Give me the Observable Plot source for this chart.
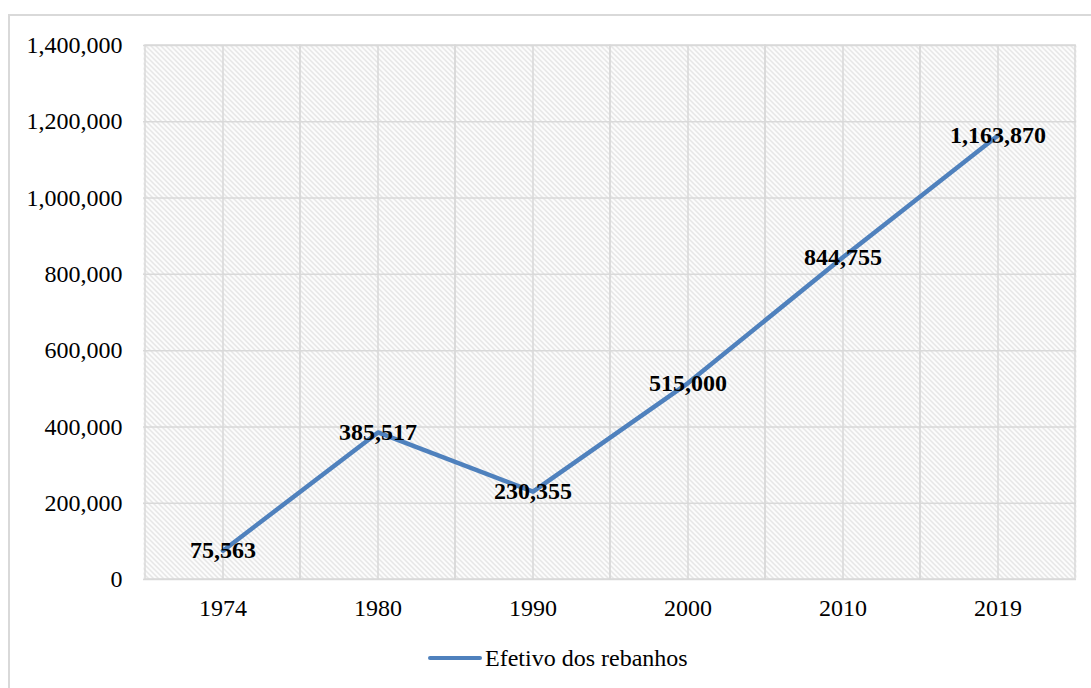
<!DOCTYPE html>
<html>
<head>
<meta charset="utf-8">
<script src="https://cdn.jsdelivr.net/npm/d3@7"></script>
<script src="https://cdn.jsdelivr.net/npm/@observablehq/plot@0.6"></script>
<style>
  html, body { margin: 0; padding: 0; background: #fff; }
  #wrap { position: relative; width: 1091px; height: 688px; overflow: hidden; font-family: "Liberation Serif", "Times New Roman", serif; }
  #border { position: absolute; left: 8px; top: 14px; width: 1110px; height: 710px; border: 2px solid #d9d9d9; box-sizing: border-box; }
  #chart { position: absolute; left: 0; top: 0; }
  #legend { position: absolute; left: 428px; top: 644px; height: 28px; display: flex; align-items: center; font-size: 24px; color: #000; }
  #legend .swatch { width: 54px; height: 4px; background: #4f81bd; border-radius: 2px; margin-right: 3px; }
</style>
</head>
<body>
<div id="wrap">
  <div id="border"></div>
  <div id="chart"></div>
  <div id="legend"><span class="swatch"></span><span>Efetivo dos rebanhos</span></div>
</div>
<script>
const years = ["1974", "1980", "1990", "2000", "2010", "2019"];
const herd = [75563, 385517, 230355, 515000, 844755, 1163870];
const yTicks = [0, 200000, 400000, 600000, 800000, 1000000, 1200000, 1400000];
const seriesName = "Efetivo dos rebanhos";

const data = years.map((year, i) => ({year, value: herd[i]}));
const fmt = d3.format(",");
const gridColor = "#d9d9d9";

const svg = Plot.plot({
  width: 1091,
  height: 630,
  marginLeft: 143,
  marginRight: 15,
  marginTop: 45,
  marginBottom: 51,
  style: {fontFamily: "'Liberation Serif', 'Times New Roman', serif", fontSize: "24px", color: "#000", background: "transparent", overflow: "visible"},
  x: {type: "band", domain: years, padding: 0, label: null, tickSize: 0, tickPadding: 19},
  y: {domain: [0, 1400000], ticks: yTicks, tickFormat: fmt, label: null, tickSize: 0, tickPadding: 21},
  marks: [
    Plot.frame({fill: "url(#hatch)", stroke: null}),
    Plot.ruleY(yTicks, {stroke: gridColor, strokeWidth: 1.5}),
    Plot.ruleX(years, {stroke: gridColor, strokeWidth: 1.5}),
    Plot.cell(years, {x: d => d, fill: "none", stroke: gridColor, strokeWidth: 1.5}),
    Plot.line(data, {x: "year", y: "value", stroke: "#4f81bd", strokeWidth: 4.5, strokeLinejoin: "round", strokeLinecap: "round"}),
    Plot.text(data, {x: "year", y: "value", text: d => fmt(d.value), fontSize: 24, fontWeight: "bold", fill: "#000"})
  ]
});

const ns = "http://www.w3.org/2000/svg";
const defs = document.createElementNS(ns, "defs");
defs.innerHTML = `<pattern id="hatch" patternUnits="userSpaceOnUse" width="5" height="5">
  <rect width="5" height="5" fill="#ffffff"/>
  <path d="M0,0 L5,5 M-1,4 L1,6 M4,-1 L6,1" stroke="#dadada" stroke-width="1.2"/>
</pattern>`;
svg.insertBefore(defs, svg.firstChild);
document.getElementById("chart").appendChild(svg);
</script>
</body>
</html>
